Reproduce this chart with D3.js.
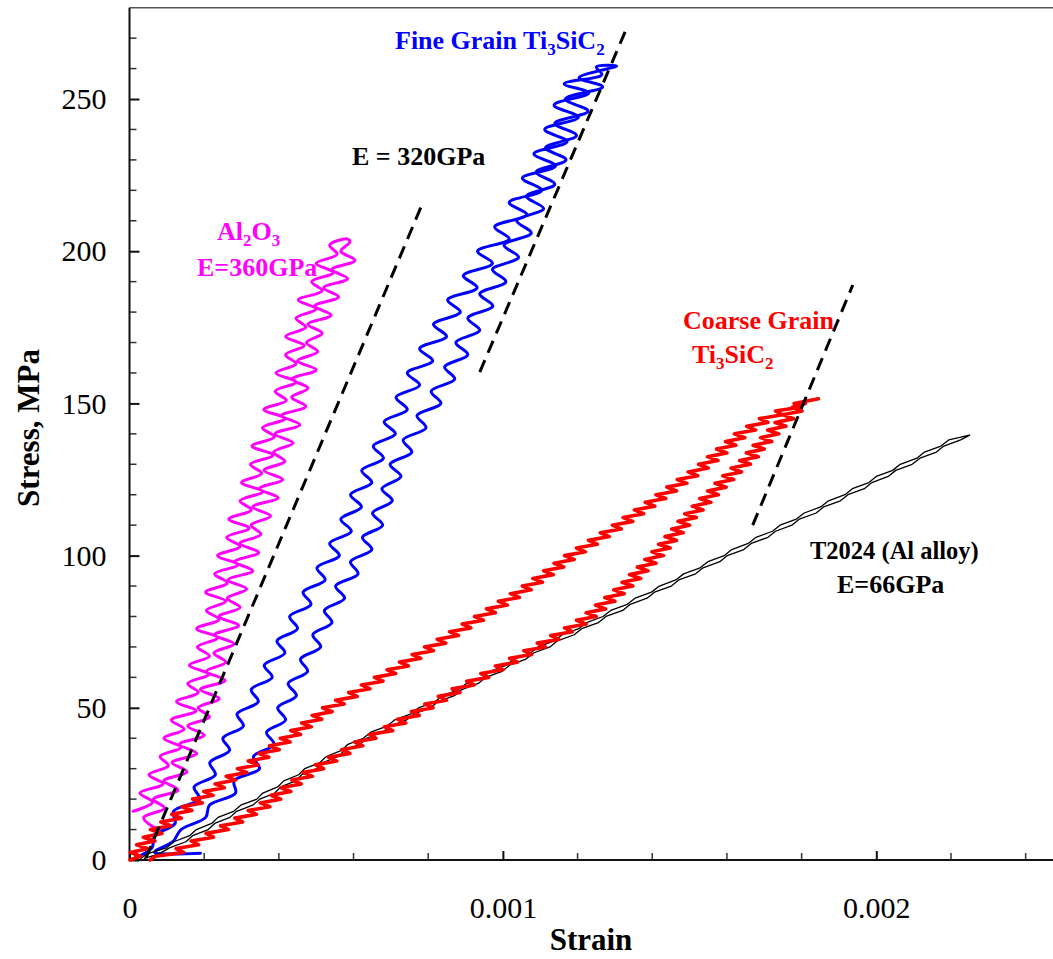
<!DOCTYPE html>
<html><head><meta charset="utf-8">
<script src="https://cdn.jsdelivr.net/npm/d3@7"></script>
<style>
html,body{margin:0;padding:0;background:#fff;}
svg{display:block;}
text{font-family:"Liberation Serif","Times New Roman",Times,serif;}
</style></head><body>
<svg id="chart" width="1053" height="959"></svg>
<script>
// ---------------- DATA ----------------
// points are [strain in microstrain (x1e-6), stress in MPa]
const xTickValues = [0, 0.001, 0.002];
const xTickLabels = ["0", "0.001", "0.002"];
const yTickValues = [0, 50, 100, 150, 200, 250];
const yTickLabels = ["0", "50", "100", "150", "200", "250"];

// Al2O3 (magenta)
const al2o3Load = [[10,16],[62,19],[28,22],[90,25],[52,28],[104,31],[82,34],[138,37],[92,40],[146,43],[112,46],[178,49],[126,52],[184,55],[156,58],[212,61],[160,64],[214,67],[182,70],[236,73],[180,76],[240,79],[206,82],[258,85],[204,88],[262,91],[228,94],[290,97],[236,100],[296,103],[260,106],[320,109],[266,112],[326,115],[296,118],[356,121],[300,124],[354,127],[324,130],[384,133],[328,136],[388,139],[356,142],[416,145],[360,148],[420,151],[390,154],[446,157],[392,160],[446,163],[418,166],[468,169],[418,172],[472,175],[446,178],[500,181],[452,184],[516,187],[488,190],[546,193],[500,196],[556,199],[536,202],[585,204]];
const al2o3Unload = [[590,203],[566,200],[604,197],[542,194],[584,191],[520,188],[560,185],[496,182],[540,179],[478,176],[516,173],[474,170],[504,167],[450,164],[500,161],[436,158],[478,155],[434,152],[472,149],[408,146],[456,143],[390,140],[438,137],[386,134],[416,131],[360,128],[410,125],[348,122],[398,119],[330,116],[378,113],[326,110],[352,107],[296,104],[346,101],[282,98],[330,95],[264,92],[314,89],[262,86],[296,83],[240,80],[292,77],[228,74],[280,71],[226,68],[258,65],[206,62],[256,59],[190,56],[240,53],[184,50],[214,47],[156,44],[200,41],[134,38],[180,35],[114,32],[154,29],[92,26],[130,23],[64,20],[94,17],[38,14],[62,11],[88,10]];

// Fine grain Ti3SiC2 (blue)
const fineLoad = [[15,0.7],[60,4],[68,8],[122,12],[118,16],[188,20],[173,24],[230,28],[215,32],[268,36],[250,40],[305,44],[288,48],[345,52],[326,56],[382,60],[361,64],[416,68],[395,72],[450,76],[429,80],[486,84],[465,88],[524,92],[502,96],[562,100],[536,104],[594,108],[566,112],[621,116],[592,120],[649,124],[622,128],[680,132],[653,136],[712,140],[682,144],[744,148],[714,152],[777,156],[744,160],[812,164],[777,168],[849,172],[814,176],[886,180],[852,184],[931,188],[894,192],[972,196],[932,200],[1017,204],[978,208],[1064,212],[1017,216],[1104,220],[1052,224],[1141,228],[1083,232],[1172,236],[1112,240],[1202,244],[1137,248],[1230,252],[1164,255],[1265,258],[1250,260.5]];
const fineUnload = [[1305,260.8],[1204,257],[1267,254],[1167,250],[1228,246],[1139,242],[1197,238],[1114,234],[1169,230],[1089,226],[1139,222],[1063,218],[1109,214],[1037,210],[1076,206],[1003,202],[1042,198],[972,194],[1008,190],[938,186],[973,182],[906,178],[938,174],[874,170],[906,166],[844,162],[871,158],[808,154],[834,150],[770,146],[794,142],[733,138],[756,134],[698,130],[727,126],[676,122],[704,118],[651,114],[678,110],[624,106],[649,102],[592,98],[612,94],[552,90],[576,86],[522,82],[542,78],[491,74],[512,70],[458,66],[477,62],[425,58],[447,54],[397,50],[418,46],[367,42],[387,38],[332,34],[348,30],[280,26],[284,22],[214,18],[204,14],[138,10],[116,6],[70,3],[68,2.4],[190,2.2]];

// Coarse grain Ti3SiC2 (red)
const coarseUpper = [[1,0],[30,1.25],[2,2.5],[50,3.75],[19,5],[68,6.25],[37,7.5],[87,8.75],[56,10],[110,11.25],[84,12.5],[139,13.75],[113,15],[167,16.25],[141,17.5],[195,18.75],[169,20],[224,21.25],[199,22.5],[254,23.75],[229,25],[284,26.25],[259,27.5],[314,28.75],[289,30],[344,31.25],[318,32.5],[373,33.75],[347,35],[401,36.25],[375,37.5],[430,38.75],[404,40],[458,41.25],[432,42.5],[487,43.75],[461,45],[515,46.25],[489,47.5],[543,48.75],[517,50],[575,51.25],[552,52.5],[610,53.75],[587,55],[644,56.25],[621,57.5],[679,58.75],[656,60],[713,61.25],[690,62.5],[747,63.75],[723,65],[780,66.25],[757,67.5],[814,68.75],[790,70],[847,71.25],[824,72.5],[881,73.75],[857,75],[914,76.25],[891,77.5],[948,78.75],[924,80],[980,81.25],[956,82.5],[1012,83.75],[988,85],[1044,86.25],[1020,87.5],[1076,88.75],[1052,90],[1106,91.25],[1080,92.5],[1135,93.75],[1109,95],[1163,96.25],[1137,97.5],[1191,98.75],[1165,100],[1221,101.25],[1197,102.5],[1253,103.75],[1229,105],[1285,106.25],[1261,107.5],[1317,108.75],[1293,110],[1348,111.25],[1322,112.5],[1377,113.75],[1352,115],[1407,116.25],[1381,117.5],[1436,118.75],[1410,120],[1465,121.25],[1439,122.5],[1493,123.75],[1467,125],[1522,126.25],[1496,127.5],[1550,128.75],[1524,130],[1576,131.25],[1548,132.5],[1600,133.75],[1572,135],[1624,136.25],[1596,137.5],[1648,138.75],[1620,140],[1677,141.25],[1653,142.5],[1710,143.75],[1687,145],[1749,146.25],[1730,147.5],[1795,148.75],[1780,150],[1845,151.5]];
const coarseLower = [[55,0],[70,1.25],[145,2.5],[125,3.75],[185,5],[165,6.25],[225,7.5],[205,8.75],[265,10],[244,11.25],[303,12.5],[282,13.75],[340,15],[318,16.25],[376,17.5],[350,18.75],[405,20],[379,21.25],[432,22.5],[406,23.75],[460,25],[435,26.25],[490,27.5],[465,28.75],[520,30],[498,31.25],[555,32.5],[533,33.75],[590,35],[568,36.25],[625,37.5],[603,38.75],[660,40],[643,41.25],[705,42.5],[683,43.75],[740,45],[718,46.25],[776,47.5],[755,48.75],[813,50],[791,51.25],[849,52.5],[827,53.75],[885,55],[864,56.25],[923,57.5],[903,58.75],[962,60],[941,61.25],[1000,62.5],[980,63.75],[1039,65],[1018,66.25],[1077,67.5],[1056,68.75],[1114,70],[1092,71.25],[1150,72.5],[1128,73.75],[1186,75],[1165,76.25],[1223,77.5],[1197,78.75],[1250,80],[1223,81.25],[1275,82.5],[1248,83.75],[1300,85],[1273,86.25],[1325,87.5],[1297,88.75],[1348,90],[1319,91.25],[1369,92.5],[1339,93.75],[1389,95],[1360,96.25],[1410,97.5],[1380,98.75],[1430,100],[1399,101.25],[1448,102.5],[1417,103.75],[1465,105],[1434,106.25],[1483,107.5],[1452,108.75],[1500,110],[1469,111.25],[1518,112.5],[1487,113.75],[1536,115],[1507,116.25],[1557,117.5],[1527,118.75],[1577,120],[1548,121.25],[1598,122.5],[1568,123.75],[1618,125],[1589,126.25],[1639,127.5],[1611,128.75],[1663,130],[1634,131.25],[1684,132.5],[1652,133.75],[1700,135],[1670,136.25],[1720,137.5],[1690,138.75],[1739,140],[1709,141.25],[1758,142.5],[1729,143.75],[1779,145],[1750,146.25],[1801,147.5],[1775,148.75],[1810,150]];

// T2024 Al alloy (black)
const alloyLoad = [[40,0.5],[79,2],[107,4],[151,6],[169,8],[211,10],[228,12],[269,14],[287,16],[330,18],[349,20],[389,22],[405,24],[445,26],[461,28],[501,30],[518,32],[559,34],[576,36],[617,38],[634,40],[678,42],[698,44],[742,46],[762,48],[806,50],[826,52],[870,54],[890,56],[934,58],[954,60],[998,62],[1018,64],[1062,66],[1082,68],[1126,70],[1146,72],[1191,74],[1211,76],[1256,78],[1276,80],[1321,82],[1341,84],[1386,86],[1406,88],[1451,90],[1471,92],[1516,94],[1536,96],[1581,98],[1601,100],[1645,102],[1665,104],[1710,106],[1730,108],[1774,110],[1794,112],[1839,114],[1859,116],[1904,118],[1924,120],[1968,122],[1988,124],[2032,126],[2052,128],[2096,130],[2117,132],[2161,134],[2181,136],[2226,138],[2250,139.6]];
const alloyUnload = [[2250,139.6],[2194,138],[2173,136],[2129,134],[2109,132],[2064,130],[2044,128],[2000,126],[1980,124],[1936,122],[1916,120],[1872,118],[1851,116],[1807,114],[1786,112],[1742,110],[1722,108],[1678,106],[1657,104],[1613,102],[1593,100],[1549,98],[1528,96],[1484,94],[1463,92],[1419,90],[1398,88],[1354,86],[1333,84],[1289,82],[1268,80],[1224,78],[1203,76],[1159,74],[1138,72],[1094,70],[1074,68],[1030,66],[1010,64],[966,62],[946,60],[902,58],[882,56],[838,54],[818,52],[774,50],[754,48],[710,46],[690,44],[646,42],[626,40],[585,38],[568,36],[527,34],[510,32],[469,30],[453,28],[413,26],[397,24],[357,22],[341,20],[298,18],[279,16],[237,14],[220,12],[179,10],[161,8],[119,6],[99,4],[47,2],[30,0.5]];

// reference modulus lines (dashed)
const modulus320 = [[44,0.66],[783,215.2]];
const modulusFine = [[938,160.3],[1335,274.3]];
const modulusCoarse = [[1669,110],[1937,188.9]];

// ---------------- CHART ----------------
const svg = d3.select("#chart");
svg.append("rect").attr("width",1053).attr("height",959).attr("fill","#fff");

const x = d3.scaleLinear().domain([0, 0.0025]).range([129.5, 1063]);
const y = d3.scaleLinear().domain([0, 280]).range([860, 7.7]);

const smooth = d3.line().x(d => x(d[0]*1e-6)).y(d => y(d[1])).curve(d3.curveCatmullRom.alpha(0.5));
const straight = d3.line().x(d => x(d[0]*1e-6)).y(d => y(d[1]));

// frame top line
svg.append("line").attr("x1", x(0)).attr("x2", 1053).attr("y1", y(280)).attr("y2", y(280))
  .attr("stroke","#555").attr("stroke-width",1.5);

// minor ticks
const gMinor = svg.append("g");
d3.range(10, 280, 10).filter(v => v % 50 !== 0).forEach(v => {
  gMinor.append("line").attr("x1", x(0)).attr("x2", x(0)+7).attr("y1", y(v)).attr("y2", y(v))
    .attr("stroke","#333").attr("stroke-width",1.5);
});
d3.range(1, 13).filter(i => i % 5 !== 0).forEach(i => {
  const v = i*0.0002;
  gMinor.append("line").attr("x1", x(v)).attr("x2", x(v)).attr("y1", y(0)).attr("y2", y(0)-7)
    .attr("stroke","#333").attr("stroke-width",1.5);
});

// axes
const xAxis = d3.axisBottom(x).tickValues(xTickValues)
  .tickFormat((d,i) => xTickLabels[i]).tickSizeInner(-9).tickSizeOuter(0).tickPadding(37);
const gx = svg.append("g").attr("transform", `translate(0,${y(0)})`).call(xAxis);
gx.select(".domain").attr("d", `M${x(0)},0H1053`).attr("stroke","#111").attr("stroke-width",2);
gx.selectAll(".tick line").attr("stroke","#111").attr("stroke-width",2);
gx.selectAll(".tick text").attr("font-size",30).attr("fill","#000")
  .attr("font-family","'Liberation Serif',serif");

const yAxis = d3.axisLeft(y).tickValues(yTickValues)
  .tickFormat((d,i) => yTickLabels[i]).tickSizeInner(-10).tickSizeOuter(0).tickPadding(23);
const gy = svg.append("g").attr("transform", `translate(${x(0)},0)`).call(yAxis);
gy.select(".domain").attr("d", `M0,${y(280)}V${y(0)}`).attr("stroke","#111").attr("stroke-width",2);
gy.selectAll(".tick line").attr("stroke","#111").attr("stroke-width",2);
gy.selectAll(".tick text").attr("font-size",30).attr("fill","#000")
  .attr("font-family","'Liberation Serif',serif");

// axis titles
svg.append("text").attr("x", 591).attr("y", 950).attr("text-anchor","middle")
  .attr("font-size",31).attr("font-weight","bold").text("Strain");
svg.append("text").attr("transform","translate(39,428) rotate(-90)").attr("text-anchor","middle")
  .attr("font-size",31).attr("font-weight","bold").text("Stress, MPa");

// curves
const curves = [
  {pts: al2o3Load.concat(al2o3Unload), color:"#ff00ff", w:3, gen: smooth},
  {pts: fineLoad.concat(fineUnload), color:"#0000ff", w:3, gen: smooth},
  {pts: alloyLoad.concat(alloyUnload), color:"#000000", w:1.3, gen: straight},
  {pts: coarseUpper, color:"#ff0000", w:3.6, gen: straight},
  {pts: coarseLower, color:"#ff0000", w:3.6, gen: straight},
];
curves.forEach(c => {
  svg.append("path").attr("d", c.gen(c.pts)).attr("fill","none")
    .attr("stroke", c.color).attr("stroke-width", c.w)
    .attr("stroke-linejoin","round").attr("stroke-linecap","round");
});

[modulus320, modulusFine, modulusCoarse].forEach(m => {
  svg.append("path").attr("d", straight(m)).attr("fill","none")
    .attr("stroke","#000").attr("stroke-width",3).attr("stroke-dasharray","13,8");
});

// annotations
const notes = [
  {x:395, y:49, color:"#0000ff", size:26, parts:[["Fine Grain Ti"],["3",1],["SiC"],["2",1]]},
  {x:352, y:165, color:"#000000", size:26, parts:[["E = 320GPa"]]},
  {x:217, y:240, color:"#ff00ff", size:26, parts:[["Al"],["2",1],["O"],["3",1]]},
  {x:197, y:276, color:"#ff00ff", size:26, parts:[["E=360GPa"]]},
  {x:683, y:329, color:"#ff0000", size:26, parts:[["Coarse Grain"]]},
  {x:692, y:363, color:"#ff0000", size:26, parts:[["Ti"],["3",1],["SiC"],["2",1]]},
  {x:810, y:559, color:"#000000", size:24.5, parts:[["T2024 (Al alloy)"]]},
  {x:837, y:593, color:"#000000", size:26, parts:[["E=66GPa"]]},
];
notes.forEach(n => {
  const t = svg.append("text").attr("x", n.x).attr("y", n.y).attr("fill", n.color)
    .attr("font-size", n.size).attr("font-weight","bold");
  let shift = 0;
  n.parts.forEach(p => {
    const target = p[1] ? 6 : 0;
    t.append("tspan").attr("dy", target - shift).attr("font-size", p[1] ? 17 : n.size).text(p[0]);
    shift = target;
  });
});
</script>
</body></html>
